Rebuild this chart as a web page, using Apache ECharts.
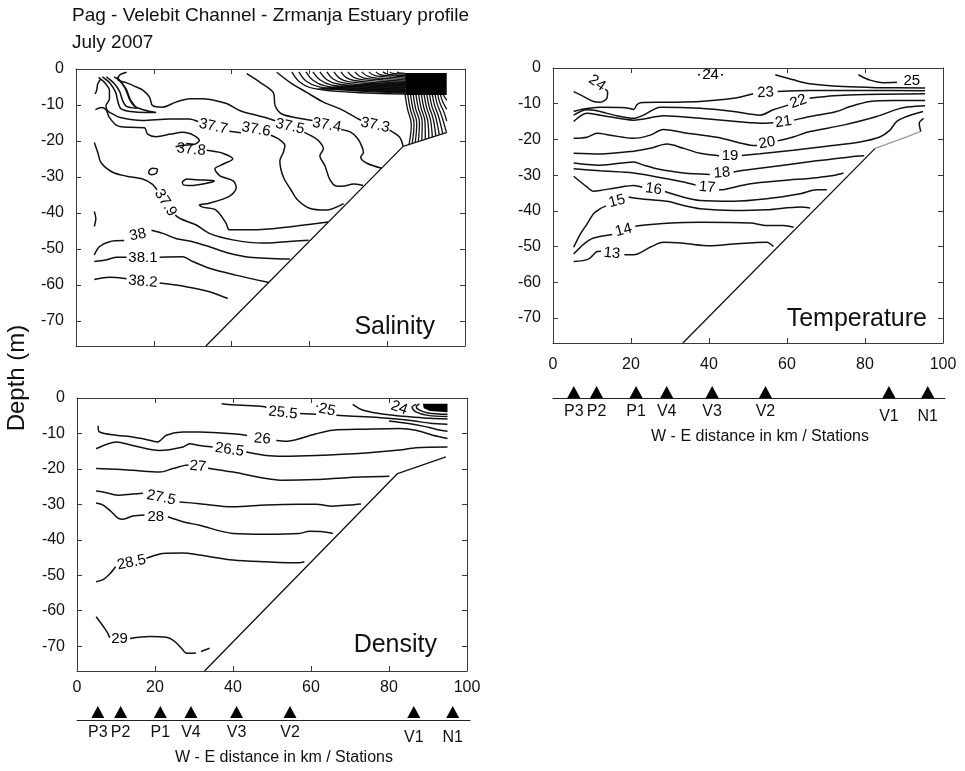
<!DOCTYPE html>
<html><head><meta charset="utf-8">
<script src="https://cdn.jsdelivr.net/npm/echarts@6/dist/echarts.min.js"></script>
<style>html,body{margin:0;padding:0;background:#fff}#c{width:965px;height:771px}</style>
</head><body><div id="c"></div><script>
// ---------- axes / ticks ----------
const xTicks = [0, 20, 40, 60, 80, 100];
const yTicks = [0, -10, -20, -30, -40, -50, -60, -70];
const depthMin = -77;

// ---------- stations ----------
const stationNames = ['P3', 'P2', 'P1', 'V4', 'V3', 'V2', 'V1', 'N1'];
const stationKm = [5.3, 11.1, 21.2, 29.0, 40.6, 54.2, 85.7, 95.6];

// ---------- salinity contours (km, m) ----------
const sal373 = [[51.6,-0.9],[55.0,-3.7],[59.3,-6.5],[63.6,-9.2],[67.9,-11.1],[72.1,-13.6],[73.3,-14.3],null,[80.6,-17.0],[83.2,-19.0],[84.1,-21.5]];
const sal374 = [[43.9,-1.3],[47.3,-3.7],[50.7,-6.5],[51.2,-10.2],[52.9,-12.5],[57,-13.6],[60.8,-14.3],null,[68.2,-16.8],[70.5,-17.5],[72.3,-19.2],[73.4,-21.3],[73.9,-23.2],[73.2,-24.5],[74.8,-26.2],[78.6,-27.6]];
const sal375 = [[13,-0.9],[11.2,-1.7],[10.8,-3],[12.9,-3.8],[15.5,-5],[17.1,-5.8],[18.9,-7.8],[19.7,-10.2],[22.3,-10.6],[25.7,-9.2],[29.3,-8.3],[32.6,-8.3],[36,-8.8],[38.7,-9.6],[42.2,-11.6],[45.4,-12.6],[49.9,-13.9],[51.2,-14.4],null,[58.7,-17.6],[60.5,-18.6],[62.3,-19.9],[63.6,-22.2],[62.7,-24.1],[64,-26.9],[65.2,-30.6],[66.8,-32.5],[68.5,-32.6],[71.3,-32.0],[73.8,-32.4]];
const sal377 = [[5.8,-2.3],[7.3,-3.7],[8.6,-6],[8.6,-8.3],[7.7,-10.2],[8.1,-11.6],[9.4,-12.5],[11.1,-13.4],[17.1,-14.3],[24,-13.9],[29.1,-13.9],[31.4,-14.6],null,[39.4,-17.3],[42.4,-17.7],null,[50.1,-18.4],[52.3,-19.6],[53.7,-21.3],[53.3,-23.2],[52.4,-25.5],[52.7,-28],[53.5,-30.5],[55.2,-33.5],[56.8,-36.2],[60,-38.7],[64.3,-39.2],[68.8,-37.4]];
const sal378 = [[5.0,-11.3],[6.5,-10.7],[7.7,-11.3],[8.6,-13.5],[10.7,-15.8],[14,-16.2],[17.6,-16.3],[18.4,-18.1],[20.6,-18.8],[24.4,-18.1],[27.4,-17.6],[30.4,-18.5],[31.7,-19.9],[30.5,-20.9],[27.5,-21.2],[25.6,-21.6],null,[33.6,-22.6],[37.7,-23.4],[40.3,-25],[37.9,-26.4],[35.7,-27.8],[37,-29.7],[40.4,-31.1],[41.2,-33],[39.4,-35.4],[34.3,-37.3],[31.7,-37.8],[32.6,-38.4],[36,-39.2],[38.6,-42.9],[39.4,-44.7],[45.4,-44.7],[51.4,-44.3],[57,-43.6],[64.8,-42.5]];
const sal379 = [[4.7,-20.4],[5.6,-23.2],[6.4,-26],[9.4,-28.7],[13,-29.8],[17.1,-30.6],[19.6,-32],[20.8,-33.6],null,[25.5,-40.6],[27,-41.7],[30.8,-43.3],[34.3,-45.7],[40.3,-47.5],[48,-48.4],[54,-48],[59.8,-47.6]];
const sal380 = [[4.7,-51.7],[6,-49.4],[8.6,-48],[12.4,-47.7],null,[19.4,-44.8],[22.3,-45.7],[25.7,-47.1],[30,-48],[34.3,-49.4],[39.4,-51.2],[44.6,-52.3],[55,-52.8]];
const sal381 = [[4.7,-53.5],[7.7,-53.1],[10.3,-52.3],[13,-52.3],null,[21.5,-52.3],[27.4,-52.2],[30,-53.5],[34.3,-55.4],[41.1,-57.3],[49.4,-59.3]];
const sal382 = [[4.7,-58.5],[8.6,-57.9],[13,-58.3],null,[21.5,-59.5],[28.3,-60.5],[34.3,-61.9],[39,-63.8]];
const salTongueA = [[6.8,-2.2],[8.8,-4],[10.2,-6.5],[10.8,-9.2],[11.5,-11],[14,-11.8],[18,-12.1],[20.6,-12.1],[17.5,-11.4],[15,-10.3],[13.8,-8.5],[12.7,-5.5],[11.2,-3.2],[9.8,-2.2]];
const salTongueB = [[7.8,-2.2],[9.7,-3.9],[11.2,-6.2],[12,-8.8],[13,-10.4],[15.6,-10.9],[14,-8.6],[13,-5.8],[11.6,-3.6],[10.5,-2.3]];
const salSmallA = [[6.4,-2.7],[5.6,-4.1],[5.3,-6],[4.9,-6.9]];
const salSmallB = [[4.7,-39.6],[5.1,-41.5],[4.7,-43.8]];
const salLoop1 = [[18.8,-28.2],[19.6,-27.6],[20.9,-27.9],[20.7,-28.9],[19.4,-29.4],[18.7,-28.9],[18.8,-28.2]];
const salLoop2 = [[27.3,-31.4],[28.5,-30.6],[31,-30.8],[35.6,-31.1],[33,-31.9],[29.5,-32.4],[27.6,-32.2],[27.3,-31.4]];
const salFanUpper = [
  [[55.5,-0.8],[57.5,-3.6],[61,-5.4],[70,-6.4],[84.6,-7.0]],
  [[57.3,-0.8],[59.2,-3.4],[62.5,-5.0],[71,-6.0],[84.6,-6.6]],
  [[59.1,-0.8],[61,-3.2],[64,-4.7],[72,-5.6],[84.6,-6.2]],
  [[60.9,-0.8],[62.7,-3.0],[65.5,-4.4],[73,-5.2],[84.6,-5.8]],
  [[62.7,-0.8],[64.4,-2.9],[67,-4.1],[74,-4.8],[84.6,-5.4]],
  [[64.5,-0.8],[66.1,-2.8],[68.5,-3.8],[75,-4.5],[84.6,-5.0]],
  [[66.3,-0.8],[67.8,-2.6],[70,-3.5],[76,-4.1],[84.6,-4.6]],
  [[68.1,-0.8],[69.5,-2.4],[71.5,-3.2],[77,-3.8],[84.6,-4.2]],
  [[69.9,-0.8],[71.2,-2.2],[73,-2.9],[78,-3.4],[84.6,-3.8]],
  [[71.7,-0.8],[72.9,-2.0],[74.5,-2.6],[79,-3.0],[84.6,-3.4]],
  [[73.5,-0.8],[74.6,-1.8],[76,-2.3],[80,-2.7],[84.6,-3.0]],
  [[75.3,-0.8],[76.3,-1.6],[77.5,-2.0],[81,-2.3],[84.6,-2.6]],
  [[77.1,-0.8],[78,-1.5],[79.2,-1.8],[82,-2.0],[84.6,-2.2]],
  [[78.9,-0.8],[79.7,-1.3],[81,-1.6],[84.6,-1.8]],
  [[80.7,-0.8],[81.4,-1.2],[84.6,-1.4]],
  [[82.5,-0.8],[83.1,-1.1],[84.6,-1.2]]
];
const salFanLower = [
  [[84.6,-7.2],[85.2,-11],[86.2,-15.5],[85.6,-21.0]],
  [[85.3,-7.2],[85.9,-11],[86.9,-15.3],[86.4,-20.7]],
  [[86.0,-7.2],[86.6,-11],[87.6,-15.1],[87.2,-20.4]],
  [[86.7,-7.2],[87.3,-11],[88.3,-14.9],[88.0,-20.1]],
  [[87.4,-7.2],[88.0,-10.9],[89.0,-14.7],[88.9,-19.8]],
  [[88.1,-7.2],[88.7,-10.8],[89.7,-14.5],[89.8,-19.5]],
  [[88.8,-7.2],[89.4,-10.7],[90.4,-14.3],[90.7,-19.2]],
  [[89.5,-7.2],[90.1,-10.6],[91.1,-14.0],[91.6,-18.9]],
  [[90.2,-7.2],[90.8,-10.5],[91.8,-13.8],[92.5,-18.6]],
  [[90.9,-7.2],[91.5,-10.4],[92.5,-13.5],[93.4,-18.3]],
  [[91.6,-7.2],[92.2,-10.2],[93.2,-13.2],[94.3,-18.0]],
  [[92.3,-7.2],[92.9,-9.9],[93.9,-12.7],[95.2,-17.5]],
  [[93.0,-7.2],[93.6,-9.6],[94.6,-12.0],[95.3,-14.5]],
  [[93.7,-7.2],[94.3,-9.2],[95.3,-11.2]],
  [[94.4,-7.2],[95.3,-8.7]]
];
const salBand = [[62,-5.5],[68,-4.6],[76,-3.9],[84.6,-3.4],[84.6,-6.9],[76,-6.3],[68,-5.9],[62,-5.7]];
const salBlock = [[84.6,-1.1],[95.3,-1.1],[95.3,-7.2],[84.6,-7.2]];
const salBottom = [[33.4,-77],[84.1,-21.5],[95.4,-17.6]];
const salLabelText = ['37.7','37.6','37.5','37.4','37.3','37.8','37.9','38','38.1','38.2'];
const salLabelAt = [[35.3,-16.0],[46.3,-16.8],[55,-16.0],[64.5,-15.6],[76.9,-15.6],[29.6,-22.4],[23,-37.2],[15.9,-46.1],[17.2,-52.4],[17.2,-59.1]];
const salLabelTilt = [-12,-10,-12,-10,-12,-6,-58,12,0,-5];

// ---------- temperature contours ----------
const tmp25 = [[78.3,-1.9],[81.3,-3.4],[84.7,-4.1],[88.2,-4.0]];
const tmp24a = [[57,-1.9],[61.6,-3.3],[65.9,-4.4],[74.4,-5.2],[83,-5.5],[95.4,-5.6]];
const tmp24dots = [[37.2,-1.9],[37.7,-1.9],null,[43.1,-1.9],[43.6,-1.9]];
const tmp24b = [[5.3,-6.6],[7.9,-8],[10.4,-9.4],[12.1,-9.6],[13.8,-8.5],[14,-6.6],[13.4,-5.9]];
const tmp23 = [[5.3,-12.2],[7.9,-11.5],[12.1,-11],[18.5,-11.1],[20.7,-11.6],[21.5,-10.3],[22.4,-9.7],[29.2,-9.6],[37.7,-9.4],[46.3,-8.5],[50.6,-7.4],[51.3,-7.2],null,[57.6,-6.6],[65.9,-6.3],[78.7,-6.3],[95.4,-6.4]];
const tmp22 = [[5.3,-13.2],[8.7,-11.7],[11.3,-12],[16.4,-13.4],[20.7,-14.1],[23.2,-13.2],[27.5,-11],[37.7,-11.3],[46.3,-12.2],[53.1,-13.2],[56.5,-11.7],[60.3,-10.4],null,[65.8,-8.5],[72,-7.8],[80,-7.4],[95.4,-7.2]];
const tmp21 = [[5.3,-15],[8.7,-12.7],[12.1,-13.2],[20.7,-14.6],[26.6,-13.6],[28.3,-13.4],[37.7,-14.1],[50.6,-15.3],[53.1,-15.5],[56.5,-15.3],null,[61.8,-14.6],[65.9,-13.6],[72.7,-12.2],[76.2,-10.8],[81.3,-9.4],[87.3,-9.1],[95.4,-9.1]];
const tmp20 = [[5.3,-19.7],[8.7,-19.4],[11.3,-18.3],[14.7,-18.8],[20.7,-19.7],[24.9,-18.8],[28.3,-17.2],[33.5,-18.1],[42,-19.4],[50.6,-21.6],[52.3,-21.7],null,[57.6,-20.4],[61.6,-19.3],[65.9,-17.8],[74.4,-16],[83,-13.6],[89,-11.3],[92.4,-10.8],[95.4,-10.6]];
const tmp19 = [[5.3,-23.9],[12.1,-24.1],[20.7,-23.3],[24.9,-22.5],[29.2,-21.3],[33.5,-22.5],[37.7,-23.9],[42.6,-24.6],null,[48.4,-24.5],[53.1,-24],[61.6,-23],[70.2,-21.9],[78.7,-20.7],[83.8,-19.3],[86.4,-17.4],[88.1,-15],[90.7,-13.6],[94.9,-12.2]];
const tmp18 = [[5.3,-26.6],[8.7,-27],[12.1,-27.2],[20.7,-26.3],[23.2,-27.2],[26.6,-28.2],[33.5,-29.4],[40.2,-29.8],null,[46.3,-29.1],[48,-28.8],[59.1,-27.2],[67.6,-26],[76.2,-24.9],[79.8,-24.6]];
const tmp17 = [[5.3,-28.2],[12.1,-28.8],[20.7,-29.4],[26.6,-30.5],[33.5,-31.9],[36.6,-32.8],null,[42.6,-34.1],[44,-34],[50.6,-32.4],[59.1,-31.5],[67.6,-30.7],[71.9,-30.1],[74.5,-29.4]];
const tmp16 = [[5.3,-30.3],[8.7,-33.3],[10.4,-34.5],[12.1,-34.3],[16.4,-33.5],[20.7,-32.9],[22.9,-33.4],null,[28.7,-34.6],[33.5,-36.2],[37.7,-37.1],[46.3,-37.3],[54.8,-36.6],[63.4,-35.2],[67.6,-34.1],[70.2,-34.1]];
const tmp15 = [[5.3,-50.2],[7,-46.5],[8.7,-43.7],[10.4,-40.8],[12.1,-39.4],[13.6,-38.6],null,[19.4,-36.1],[22.4,-36.6],[29.2,-37.3],[33.5,-38.5],[37.7,-39.4],[46.3,-39.9],[54.8,-39.7],[63.4,-38.9],[65.9,-39.2]];
const tmp14 = [[5.3,-52.1],[7.9,-49.3],[10.4,-47.6],[15.2,-46.6],null,[21.1,-44.3],[22.4,-44.1],[29.2,-43.5],[37.7,-43.2],[50.6,-43.4],[54.8,-44.1],[59.1,-44.1],[61.7,-44.6]];
const tmp13 = [[5.3,-54.2],[9.1,-53.5],[11.3,-51.4],[12.3,-51.3],null,[18.3,-52.3],[20.7,-52.3],[24.9,-50.2],[28.3,-48.8],[33.5,-49.1],[40.3,-49.8],[46.3,-49.3],[54.8,-48.8],[56.5,-50]];
const tmpShort = [[95,-14.1],[93.9,-15.5],[94.3,-17.8]];
const tmpBottom = [[33.3,-77],[82.6,-22.5]];
const tmpBottomFaint = [[82.6,-22.5],[90.7,-19.3],[94.1,-17.8]];
const tmpLabelText = ['25','24','24','23','22','21','20','19','18','17','16','15','14','13'];
const tmpLabelAt = [[92,-3.7],[40.4,-1.9],[11.3,-4.2],[54.5,-6.9],[62.9,-9.4],[59.1,-15.1],[54.9,-21],[45.4,-24.6],[43.3,-29.4],[39.5,-33.4],[25.8,-33.9],[16.4,-37.3],[18.1,-45.4],[15.1,-51.9]];
const tmpLabelTilt = [0,0,-35,3,20,8,10,0,5,-5,-8,15,15,-5];

// ---------- density contours ----------
const den255 = [[37.1,-1.6],[40,-1.9],[47.7,-2.4],[48.6,-2.6],null,[57.2,-4.4],[61.3,-4.6],null,[66.5,-4.9],[74,-5.3],[82,-5.9],[86.5,-6.5],[90.5,-7.1],[95,-7.4]];
const den25dot = [[61.4,-2.3],[61.8,-2.3]];
const denA = [[70.7,-1.8],[73.2,-3.4],[77.5,-4.4],[82,-5.0],[86.5,-5.4],[90.5,-5.7],[95,-5.9]];
const denC = [[80,-6.5],[85,-7.2],[89,-8.0],[92,-8.8],[95,-9.4]];
const denArc1 = [[87.8,-1.7],[87,-2.3],[87.6,-3.3],[90,-4.2],[95,-4.6]];
const denArc2 = [[86.9,-1.8],[85.9,-2.6],[86.9,-3.9],[90,-4.9],[95,-5.2]];
const denBlock = [[88.7,-1.6],[95,-1.6],[95,-4.0],[90.5,-3.7],[88.9,-2.9]];
const den26 = [[5.4,-7.8],[5.8,-9.6],[10.1,-10.5],[14.3,-11],[18.6,-11.9],[20.7,-12.4],[22.9,-10.5],[27.2,-9.6],[31.4,-9.6],[40,-10.1],[43.6,-10.6],null,[51.1,-12],[53.6,-12.2],[57,-11.5],[61.3,-10.1],[65.6,-9.1],[74.1,-8.8],[82.7,-8.6],[86.9,-9.1],[91.2,-10.5],[95,-11.4]];
const den265 = [[4.9,-14.3],[10.1,-12.4],[14.3,-13.4],[21.2,-14.8],[27.2,-13.8],[28.9,-12.9],[31.4,-13.4],[34.8,-13.8],null,[43.4,-15.2],[48.5,-16.2],[52.8,-16.4],[61.3,-16.2],[74.1,-15.5],[82.7,-14.7],[86.9,-14],[95,-13.8]];
const den27 = [[4.9,-19.9],[10.1,-20.1],[14.3,-20.4],[21.2,-20.9],[24.6,-19.9],[27.6,-19],[28.6,-18.9],null,[33.6,-19.8],[40,-20.9],[48.5,-22.7],[52.8,-23.2],[61.3,-23],[69.9,-22.4],[80.1,-22.1]];
const den275 = [[4.9,-26.2],[6.7,-26.5],[10.5,-27.4],[14.3,-27.1],[16.9,-26.9],null,[26.3,-29.3],[31.4,-29.8],[40,-30.7],[48.5,-30.2],[57,-30],[61.3,-30],[65.6,-30.5],[69.9,-30.2],[72.8,-29.9]];
const den28 = [[4.9,-29.6],[6.7,-30.2],[8.8,-32.1],[10.5,-33.9],[11.8,-34.2],[14.3,-33.3],[17.3,-33],null,[23.3,-33.5],[27.2,-34.9],[31.4,-35.9],[40,-38.2],[48.5,-38.4],[57,-38.2],[59.6,-37.6],[63,-37.7],[65.6,-38.2]];
const den285 = [[4.9,-51.8],[6.7,-51.2],[8.5,-49.5],[9.9,-47.6],null,[17.8,-45.2],[21.2,-44],[22.9,-43.8],[27.2,-43.7],[31.4,-44.3],[40,-45.7],[48.5,-46.2],[57,-46.5],[58.3,-46.2]];
const den29 = [[4.9,-61.7],[6.2,-63.6],[7.1,-65],[7.9,-66.4],[8.4,-67.6],null,[13.6,-67.8],[18.6,-67.3],[22.9,-67.5],[25.1,-68.7],[26.8,-70.6],[28.1,-72],[30.5,-71.9],null,[31.8,-71.5],[34,-70.6]];
const denBottom = [[32.7,-77],[82.2,-21.3],[94.6,-16.6]];
const denLabelText = ['25.5','25','24','26','26.5','27','27.5','28','28.5','29'];
const denLabelAt = [[52.8,-4.2],[64.1,-3.4],[82.6,-2.8],[47.5,-11.5],[39.1,-14.6],[31.0,-19.3],[21.6,-28.1],[20.2,-33.4],[14,-46.4],[10.9,-67.8]];
const denLabelTilt = [-6,-12,-20,-5,-8,-5,-12,0,12,0];

// ---------- build chart ----------
const FONT = "'Liberation Sans', Arial, Helvetica, sans-serif";
const INK = '#111111';
const FRAME = '#3a3a3a';
const chart = echarts.init(document.getElementById('c'), null, {renderer: 'canvas'});

const grids = [
  {left: 76, top: 69, width: 389, height: 277},
  {left: 553, top: 68, width: 390, height: 275},
  {left: 77, top: 398, width: 390, height: 273},
  {left: 553, top: 378, width: 392, height: 20},
  {left: 77, top: 700, width: 393, height: 20}
];
const xAxes = [], yAxes = [];
[0, 1, 2].forEach(g => {
  const tick = {inside: true, length: 5, lineStyle: {color: FRAME, width: 1}};
  xAxes.push({gridIndex: g, type: 'value', min: 0, max: 100, interval: 20, position: 'bottom',
    axisLine: {onZero: false, lineStyle: {color: FRAME, width: 1}}, axisTick: tick,
    axisLabel: {show: g > 0, margin: g === 1 ? 14 : 9, fontSize: 16, color: INK, fontFamily: FONT,
      customValues: xTicks},
    splitLine: {show: false}});
  xAxes.push({gridIndex: g, type: 'value', min: 0, max: 100, interval: 20, position: 'top',
    axisLine: {onZero: false, lineStyle: {color: FRAME, width: 1}}, axisTick: tick,
    axisLabel: {show: false}, splitLine: {show: false}});
  yAxes.push({gridIndex: g, type: 'value', min: depthMin, max: 0, position: 'left',
    axisLine: {onZero: false, lineStyle: {color: FRAME, width: 1}},
    axisTick: {inside: true, length: 5, lineStyle: {color: FRAME}, customValues: yTicks},
    axisLabel: {margin: 12, fontSize: 16, color: INK, fontFamily: FONT, customValues: yTicks},
    splitLine: {show: false}});
  yAxes.push({gridIndex: g, type: 'value', min: depthMin, max: 0, position: 'right',
    axisLine: {onZero: false, lineStyle: {color: FRAME, width: 1}},
    axisTick: {inside: true, length: 5, lineStyle: {color: FRAME}, customValues: yTicks},
    axisLabel: {show: false}, splitLine: {show: false}});
});
[3, 4].forEach(g => {
  xAxes.push({gridIndex: g, type: 'value', min: 0, max: 100,
    axisLine: {onZero: false, lineStyle: {color: '#222', width: 1}},
    axisTick: {show: false}, axisLabel: {show: false}, splitLine: {show: false}});
  yAxes.push({gridIndex: g, type: 'value', min: 0, max: 1, show: false});
});

const series = [];
function splitSegs(pts) {
  const out = []; let cur = [];
  pts.forEach(p => { if (p === null) { if (cur.length) out.push(cur); cur = []; } else cur.push(p); });
  if (cur.length) out.push(cur);
  return out;
}
function addLine(pts, g, opt) {
  opt = opt || {};
  splitSegs(pts).forEach(seg => {
    series.push({type: 'line', xAxisIndex: 2 * g, yAxisIndex: 2 * g, data: seg,
      showSymbol: false, symbol: 'none', smooth: opt.smooth == null ? 0.3 : opt.smooth,
      clip: true, z: 3,
      lineStyle: {color: opt.color || INK, width: opt.width || 1.5}});
  });
}
function addLabels(texts, at, tilt, g, size) {
  series.push({type: 'scatter', xAxisIndex: 2 * g, yAxisIndex: 2 * g, symbolSize: 0.01, z: 5,
    itemStyle: {opacity: 1},
    data: texts.map((t, i) => ({name: t, value: at[i], label: {rotate: tilt[i]}})),
    label: {show: true, position: 'inside', formatter: p => p.name, fontSize: size,
      color: '#000', fontFamily: FONT}});
}
function addPoly(pts, g) {
  series.push({type: 'custom', xAxisIndex: 2 * g, yAxisIndex: 2 * g, z: 3,
    data: [pts[0]],
    renderItem: (params, api) => ({type: 'polygon',
      shape: {points: pts.map(p => api.coord(p))}, style: {fill: '#000'}})});
}
function addStations(axisIdx, lift, near, far) {
  const lowered = new Set(['V1', 'N1']);
  series.push({type: 'scatter', xAxisIndex: axisIdx, yAxisIndex: axisIdx, clip: false,
    symbol: 'triangle', symbolSize: [13, 12], symbolOffset: [0, lift],
    itemStyle: {color: '#000', opacity: 1},
    data: stationKm.map((k, i) => ({name: stationNames[i], value: [k, 0],
      label: {distance: lowered.has(stationNames[i]) ? far : near}})),
    label: {show: true, position: 'bottom', formatter: '{b}', fontSize: 16, color: INK, fontFamily: FONT}});
}

// salinity
[sal373, sal374, sal375, sal377, sal378, sal379, sal380, sal381, sal382,
 salTongueA, salTongueB, salSmallA, salSmallB, salLoop1, salLoop2].forEach(l => addLine(l, 0));
salFanUpper.forEach(l => addLine(l, 0, {width: 1.3, smooth: 0.4}));
salFanLower.forEach(l => addLine(l, 0, {width: 1.3, smooth: 0.4}));
addPoly(salBand, 0);
addPoly(salBlock, 0);
addLine(salBottom, 0, {smooth: 0, width: 1.3});
addLabels(salLabelText, salLabelAt, salLabelTilt, 0, 15);

// temperature
[tmp25, tmp24a, tmp24dots, tmp24b, tmp23, tmp22, tmp21, tmp20, tmp19, tmp18, tmp17, tmp16,
 tmp15, tmp14, tmp13, tmpShort].forEach(l => addLine(l, 1));
addLine(tmpBottom, 1, {smooth: 0, width: 1.3});
addLine(tmpBottomFaint, 1, {smooth: 0, width: 1.2, color: '#9a9a9a'});
addLabels(tmpLabelText, tmpLabelAt, tmpLabelTilt, 1, 15);

// density
[den255, den25dot, denA, denC, denArc1, denArc2, den26, den265, den27, den275, den28, den285, den29]
  .forEach(l => addLine(l, 2));
addPoly(denBlock, 2);
addLine(denBottom, 2, {smooth: 0, width: 1.3});
addLabels(denLabelText, denLabelAt, denLabelTilt, 2, 15);

// stations
addStations(6, -6, 6, 11);
addStations(7, -8, 7, 12);

const txt = (text, x, y, size, align, extra) => Object.assign({type: 'text', x, y,
  style: {text, font: size + 'px ' + FONT, fill: INK, textAlign: align || 'left', textVerticalAlign: 'middle'}}, extra || {});

chart.setOption({
  animation: false,
  backgroundColor: '#fff',
  grid: grids, xAxis: xAxes, yAxis: yAxes, series,
  graphic: [
    txt('Pag - Velebit Channel - Zrmanja Estuary profile', 72, 16, 19),
    txt('July 2007', 72, 43, 19),
    txt('Depth (m)', 17, 378, 24, 'center', {rotation: Math.PI / 2}),
    txt('Salinity', 435, 327, 25, 'right'),
    txt('Temperature', 927, 319, 25, 'right'),
    txt('Density', 437, 645, 25, 'right'),
    txt('W - E distance in km / Stations', 760, 437, 16, 'center'),
    txt('W - E distance in km / Stations', 284, 758, 16, 'center')
  ]
});
</script></body></html>
